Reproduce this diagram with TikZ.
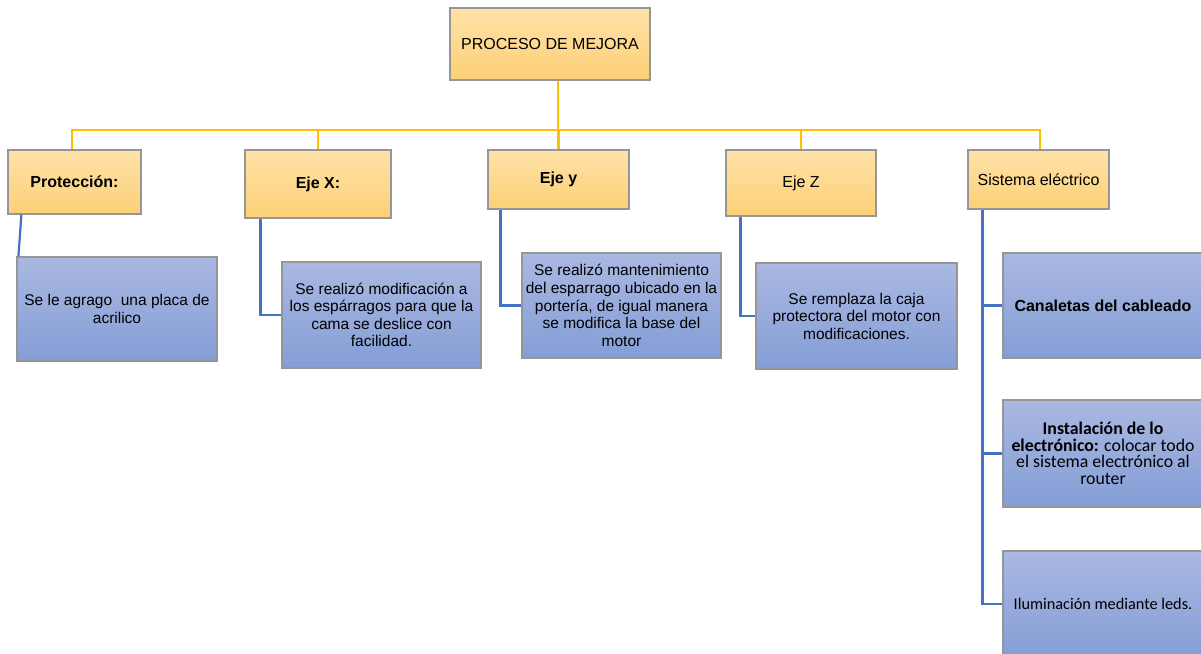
\documentclass[tikz,border=0pt]{standalone}
\usepackage{fontspec}
\setmainfont{Liberation Sans}
\newfontfamily\calibri{Carlito}
\usetikzlibrary{shadows}
\definecolor{orline}{HTML}{FFC000}
\definecolor{blline}{HTML}{4472C4}
\definecolor{ortop}{RGB}{255,226,168}
\definecolor{orbot}{RGB}{252,208,118}
\definecolor{bltop}{RGB}{170,184,226}
\definecolor{blbot}{RGB}{132,158,214}
\definecolor{boxedge}{RGB}{150,150,150}
\tikzset{
  obox/.style={draw=boxedge, line width=1.2pt, top color=ortop, bottom color=orbot,
    inner sep=0pt, align=center, font=\fontsize{16}{19}\selectfont,
    drop shadow={shadow xshift=1pt, shadow yshift=-1pt, opacity=0.25}},
  bbox/.style={draw=boxedge, line width=1.2pt, top color=bltop, bottom color=blbot,
    inner sep=0pt, align=center, font=\fontsize{15.5}{17.5}\selectfont,
    drop shadow={shadow xshift=1pt, shadow yshift=-1pt, opacity=0.25}},
  oline/.style={draw=orline, line width=2.8pt},
  bline/.style={draw=blline, line width=2.2pt},
}
\begin{document}
\begin{tikzpicture}[x=1pt,y=-1pt]
\useasboundingbox (0,0) rectangle (1201,653);
\clip (0,0) rectangle (1201,653);
\fill[white] (0,0) rectangle (1201,653);

% top
\node[obox, minimum width=200pt, minimum height=72pt] (top) at (550,44) {PROCESO DE MEJORA};

% level 1
\node[obox, minimum width=133pt, minimum height=64pt, font=\fontsize{16}{19}\selectfont\bfseries] (prot) at (74.5,182) {Protección:};
\node[obox, minimum width=146pt, minimum height=68pt, font=\fontsize{16}{19}\selectfont\bfseries] (ejex) at (318,184) {Eje X:};
\node[obox, minimum width=141pt, minimum height=59pt, font=\fontsize{16}{19}\selectfont\bfseries] (ejey) at (558.5,179.5) {Eje y};
\node[obox, minimum width=150pt, minimum height=66pt] (ejez) at (801,183) {Eje Z};
\node[obox, minimum width=141pt, minimum height=59pt] (sis) at (1038.5,179.5) {Sistema eléctrico};

% orange tree
\coordinate (bus) at (558,130);
\foreach \c/\dx in {prot/-2.5,ejex/0,ejey/0,ejez/0,sis/1.5}{
  \draw[oline] ([xshift=8pt]top.south) -- ([xshift=8pt]top.south |- bus) -| ([xshift=\dx pt]\c.north);
}

% level 2
\node[bbox, minimum width=200pt, minimum height=104pt] (b1) at (117,309)
  {Se le agrago\ \ una placa de\\acrilico};
\node[bbox, minimum width=199pt, minimum height=106pt, font=\fontsize{15.5}{17.3}\selectfont] (b2) at (381.5,315)
  {Se realizó modificación a\\los espárragos para que la\\cama se deslice con\\facilidad.};
\node[bbox, minimum width=199pt, minimum height=105pt, font=\fontsize{15.5}{17.7}\selectfont] (b3) at (621.5,305.5)
  {Se realizó mantenimiento\\del esparrago ubicado en la\\portería, de igual manera\\se modifica la base del\\motor};
\node[bbox, minimum width=201pt, minimum height=106pt] (b4) at (856.5,316)
  {Se remplaza la caja\\protectora del motor con\\modificaciones.};
\node[bbox, minimum width=200pt, minimum height=105pt, font=\fontsize{16}{19}\selectfont\bfseries] (b5) at (1103,305.5)
  {Canaletas del cableado};
\node[bbox, minimum width=200pt, minimum height=107pt, font=\calibri\fontsize{17.8}{16.5}\selectfont] (b6) at (1103,453.5)
  {\textbf{Instalación de lo}\\\textbf{electrónico:} colocar todo\\el sistema electrónico al\\router};
\node[bbox, minimum width=200pt, minimum height=106pt, font=\calibri\fontsize{16.3}{17}\selectfont] (b7) at (1103,604)
  {Iluminación mediante leds.};

% blue connectors
\draw[bline] ([xshift=14pt]prot.south west) -- ([xshift=2pt]b1.north west);
\draw[bline] ([xshift=16pt]ejex.south west) |- (b2.west);
\draw[bline] ([xshift=13pt]ejey.south west) |- (b3.west);
\draw[bline] ([xshift=15pt]ejez.south west) |- (b4.west);
\draw[bline] ([xshift=15pt]sis.south west) |- (b5.west);
\draw[bline] ([xshift=15pt]sis.south west) |- (b6.west);
\draw[bline] ([xshift=15pt]sis.south west) |- (b7.west);
\end{tikzpicture}
\end{document}
